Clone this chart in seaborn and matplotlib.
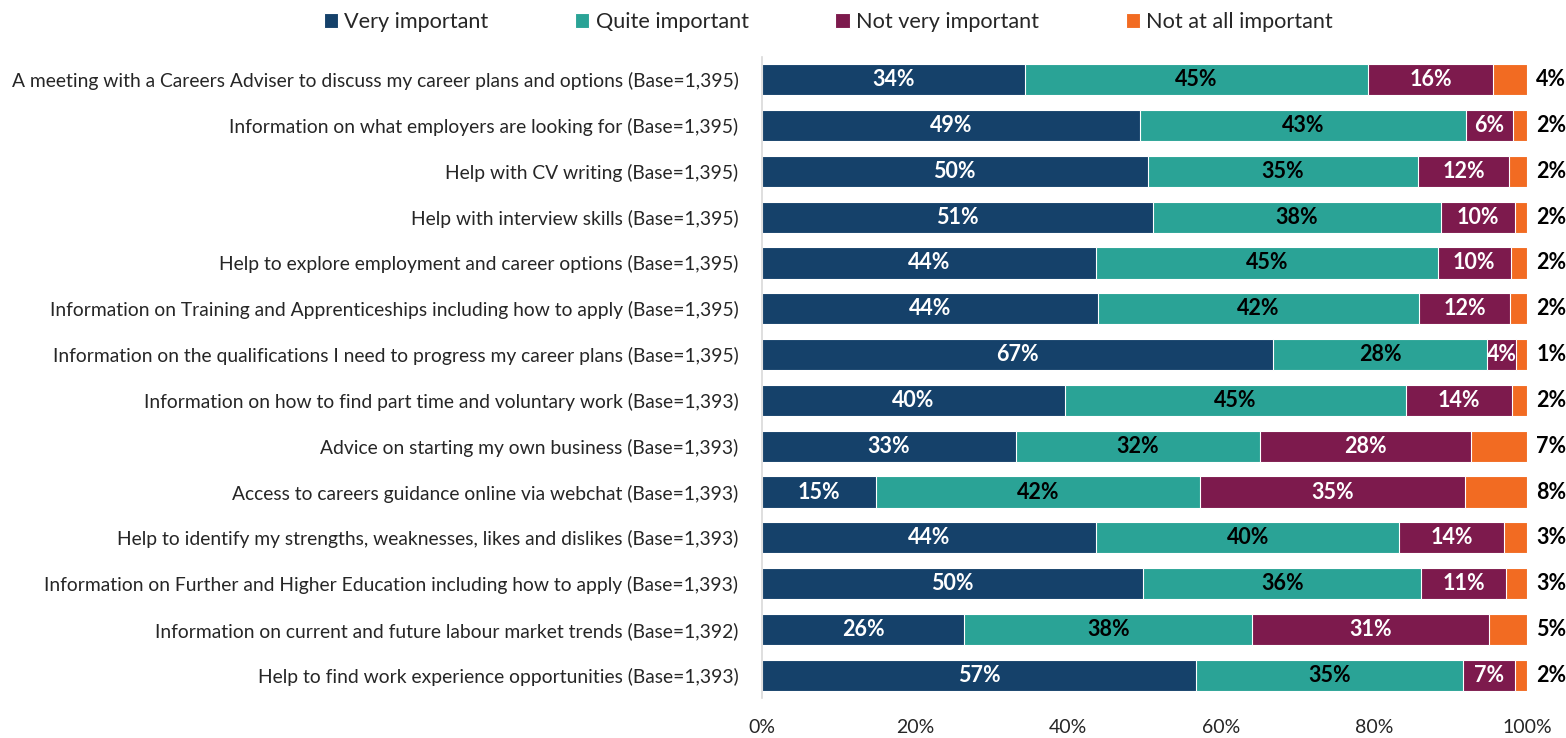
import numpy as np
import pandas as pd
import seaborn as sns
import matplotlib.pyplot as plt
from matplotlib.ticker import PercentFormatter

## items asked about, in the order shown top to bottom
items = [
    "A meeting with a Careers Adviser to discuss my career plans and options (Base=1,395)",
    "Information on what employers are looking for (Base=1,395)",
    "Help with CV writing (Base=1,395)",
    "Help with interview skills (Base=1,395)",
    "Help to explore employment and career options (Base=1,395)",
    "Information on Training and Apprenticeships including how to apply (Base=1,395)",
    "Information on the qualifications I need to progress my career plans (Base=1,395)",
    "Information on how to find part time and voluntary work (Base=1,393)",
    "Advice on starting my own business (Base=1,393)",
    "Access to careers guidance online via webchat (Base=1,393)",
    "Help to identify my strengths, weaknesses, likes and dislikes (Base=1,393)",
    "Information on Further and Higher Education including how to apply (Base=1,393)",
    "Information on current and future labour market trends (Base=1,392)",
    "Help to find work experience opportunities (Base=1,393)",
]

## shares (%)
very_important = [34.4, 49.4, 50.4, 51.1, 43.7, 43.9, 66.8, 39.6, 33.2, 14.9, 43.7, 49.8, 26.4, 56.7]
quite_important = [44.8, 42.6, 35.4, 37.7, 44.6, 42.0, 28.0, 44.6, 31.9, 42.4, 39.6, 36.4, 37.7, 34.9]
not_very_important = [16.4, 6.2, 11.8, 9.6, 9.6, 11.9, 3.8, 13.8, 27.6, 34.6, 13.7, 11.0, 30.9, 6.8]
not_at_all_important = [4.4, 1.8, 2.4, 1.6, 2.1, 2.2, 1.4, 2.0, 7.3, 8.1, 3.0, 2.8, 5.0, 1.6]

categories = ["Very important", "Quite important", "Not very important", "Not at all important"]
colours = ["#15416A", "#2AA396", "#7D1A4D", "#F26B22"]
label_colours = ["white", "black", "white", "black"]

df = pd.DataFrame({
    "item": items,
    "Very important": very_important,
    "Quite important": quite_important,
    "Not very important": not_very_important,
    "Not at all important": not_at_all_important,
})

sns.set_style("white")
plt.rcParams['font.family'] = ['Lato', 'DejaVu Sans']

fig = plt.figure(figsize=(15.66, 7.38), dpi=100)
ax = fig.add_axes([0.4866, 0.054, 0.4885, 0.869])

## stacked bars: draw cumulative totals, widest first, so each layer sits on top
cum = df[categories].cumsum(axis=1)
cum["item"] = df["item"]
for cat, col in reversed(list(zip(categories, colours))):
    sns.barplot(data=cum, x=cat, y="item", color=col, saturation=1,
                orient="h", width=0.68, edgecolor="white", linewidth=0.8,
                ax=ax, label=cat)

## percentage labels
for i in range(len(items)):
    left = 0
    for j, cat in enumerate(categories):
        v = df.loc[i, cat]
        txt = f"{v:.0f}%"
        if j == 3:
            ax.text(101.2, i, txt, ha="left", va="center", color="black",
                    fontsize=15.5, fontweight="bold", clip_on=False)
        else:
            ax.text(left + v / 2, i, txt, ha="center", va="center",
                    color=label_colours[j], fontsize=15.5, fontweight="bold")
        left += v

ax.set_xlim(0, 100)
ax.set_ylim(len(items) - 0.5, -0.5)
ax.xaxis.set_major_formatter(PercentFormatter(decimals=0))
ax.set_xticks(np.arange(0, 101, 20))
ax.set_xlabel("")
ax.set_ylabel("")
ax.tick_params(axis="x", length=0, pad=15, labelsize=14)
ax.tick_params(axis="y", length=0, pad=17, labelsize=13.9)
for s in ["top", "right", "bottom"]:
    ax.spines[s].set_visible(False)
ax.spines["left"].set_color("#D9D9D9")
ax.spines["left"].set_linewidth(1.2)

## legend across the top
handles, labels = ax.get_legend_handles_labels()
order = [labels.index(c) for c in categories]
if ax.get_legend():
    ax.get_legend().remove()
fig.legend([handles[k] for k in order], categories, loc="center",
           bbox_to_anchor=(0.529, 0.97), ncol=4, frameon=False, fontsize=15.6,
           handlelength=0.65, handleheight=0.65, handletextpad=0.3, columnspacing=4.0)

plt.savefig("out.png", dpi=100)
